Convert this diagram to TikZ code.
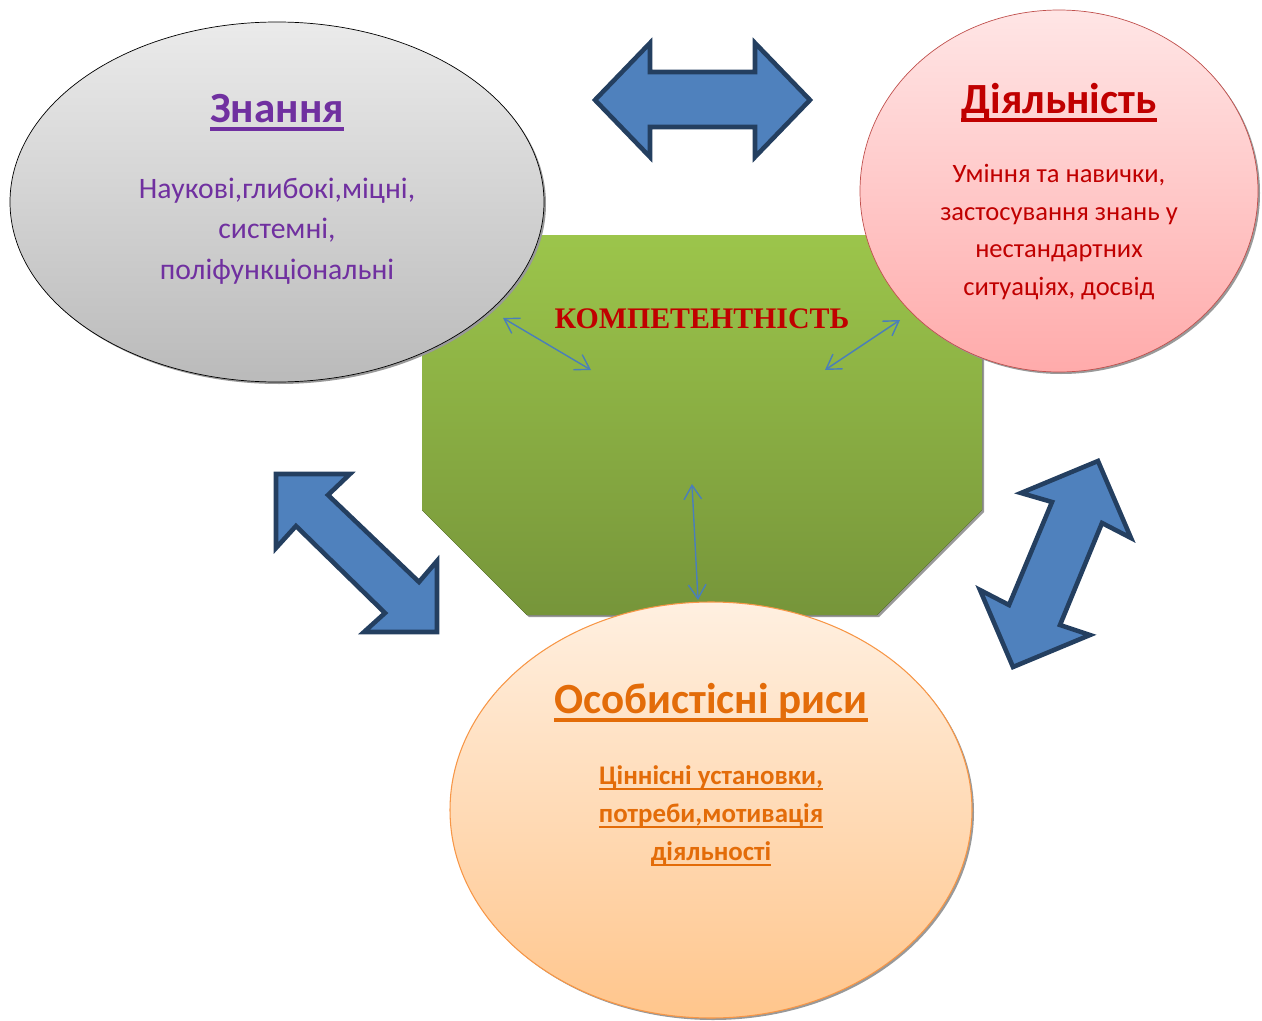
\documentclass[tikz,border=0pt]{standalone}
\usepackage{fontspec}
\setmainfont{Carlito}
\newfontfamily\timesfont{Liberation Serif}
\usetikzlibrary{arrows.meta, positioning}

\definecolor{znPurple}{HTML}{7030A0}
\definecolor{diRed}{HTML}{C00000}
\definecolor{osOrange}{HTML}{E36C09}
\definecolor{blockFill}{HTML}{4F81BD}
\definecolor{blockLine}{HTML}{243F60}
\definecolor{thinBlue}{HTML}{4A7EBB}
\definecolor{grnTop}{HTML}{9CC54B}
\definecolor{grnBot}{HTML}{76953A}
\definecolor{diLine}{HTML}{C0504D}
\definecolor{osLine}{HTML}{F79646}

% underline with a thicker rule
\newcommand{\ulbox}[1]{\leavevmode\setbox0=\hbox{#1}\rlap{\rule[-0.2em]{\wd0}{0.08em}}\box0}

\tikzset{
    blockarrow/.style={fill=blockFill, draw=blockLine, line width=2.6pt, line join=miter},
    thinarrow/.style={thinBlue, line width=0.8pt, {Straight Barb[length=8pt,width=10pt]}-{Straight Barb[length=8pt,width=10pt]}},
    shadowfill/.style={fill=black!40},
    titletxt/.style={font=\fontsize{24.5}{28}\selectfont\bfseries, anchor=base},
    bodytxt/.style={align=center}
}

\begin{document}
\begin{tikzpicture}[x=0.02cm, y=-0.02cm]

    \useasboundingbox (0,0) rectangle (1262,1021);

    % ============================================================
    % CENTRAL OCTAGON
    % ============================================================
    \fill[shadowfill] (424,342) -- (529,237) -- (879,237) -- (984,342)
        -- (984,512) -- (879,617) -- (529,617) -- (424,512) -- cycle;
    \fill[top color=grnTop, bottom color=grnBot]
        (422,340) -- (527,235) -- (877,235) -- (982,340)
        -- (982,510) -- (877,615) -- (527,615) -- (422,510) -- cycle;

    % ============================================================
    % KNOWLEDGE ELLIPSE
    % ============================================================
    \fill[shadowfill] (279,204) ellipse [x radius=267, y radius=180];
    \draw[black, thin, top color=black!8, bottom color=black!27]
        (277,202) ellipse [x radius=267, y radius=180];

    % ============================================================
    % ACTIVITY CIRCLE
    % ============================================================
    \fill[shadowfill] (1061,193) ellipse [x radius=199, y radius=181];
    \draw[diLine, thin, top color=red!10, bottom color=red!33]
        (1059,191) ellipse [x radius=199, y radius=181];

    % ============================================================
    % PERSONAL TRAITS ELLIPSE
    % ============================================================
    \fill[shadowfill] (713,812) ellipse [x radius=261, y radius=208];
    \draw[osLine, semithick, top color=orange!12, bottom color=orange!45]
        (711,810) ellipse [x radius=261, y radius=208];

    % ============================================================
    % BLOCK ARROWS
    % ============================================================
    \draw[blockarrow] (595,100) -- (650,43) -- (650,72) -- (755,72) -- (755,43)
        -- (810,100) -- (755,157) -- (755,127) -- (650,127) -- (650,157) -- cycle;
    \draw[blockarrow] (276,474) -- (350,474) -- (328,495) -- (419,582)
        -- (437,561) -- (437,632) -- (364,632) -- (385,613) -- (296,526)
        -- (276,548) -- cycle;
    \draw[blockarrow] (1098,461) -- (1131,538) -- (1102,523) -- (1060,625)
        -- (1090,635) -- (1013,667) -- (980,590) -- (1009,605) -- (1052,502)
        -- (1021,493) -- cycle;

    % ============================================================
    % THIN LINKS
    % ============================================================
    \coordinate (linkZnA) at (503,318);
    \coordinate (linkZnB) at (591,370);
    \coordinate (linkDiA) at (900,320);
    \coordinate (linkDiB) at (825,370);
    \coordinate (linkOsA) at (692,484);
    \coordinate (linkOsB) at (698,600);
    \draw[thinarrow] (linkZnA) -- (linkZnB);
    \draw[thinarrow] (linkDiA) -- (linkDiB);
    \draw[thinarrow] (linkOsA) -- (linkOsB);

    % ============================================================
    % TEXTS
    % ============================================================
    \node[titletxt, text=znPurple] (znTitle) at (277,122) {\ulbox{Знання}};
    \node[bodytxt, text=znPurple, font=\fontsize{16.9}{23.2}\selectfont]
        (znBody) at (277,231)
        {Наукові,глибокі,міцні,\\ системні,\\ поліфункціональні};

    \node[titletxt, text=diRed] (diTitle) at (1059,113) {\ulbox{Діяльність}};
    \node[bodytxt, text=diRed, font=\fontsize{15.1}{21.5}\selectfont]
        (diBody) at (1059,232)
        {Уміння та навички,\\ застосування знань у\\ нестандартних\\ ситуаціях, досвід};

    \node[text=diRed, anchor=base, font=\timesfont\fontsize{17}{20}\selectfont\bfseries]
        (kompTitle) at (702,328) {КОМПЕТЕНТНІСТЬ};

    \node[titletxt, text=osOrange] (osTitle) at (711,713) {\ulbox{Особистісні риси}};
    \node[bodytxt, text=osOrange, font=\fontsize{15.3}{21.5}\selectfont\bfseries]
        (osBody) at (711,816)
        {\ulbox{Ціннісні установки,}\\ \ulbox{потреби,мотивація}\\ \ulbox{діяльності}};

\end{tikzpicture}
\end{document}
